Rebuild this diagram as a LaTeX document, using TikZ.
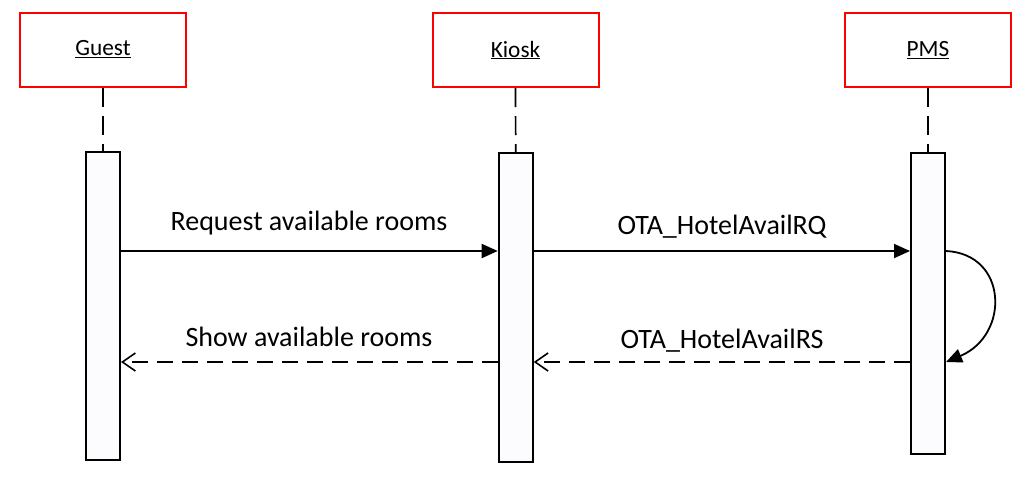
\documentclass[tikz,border=0pt]{standalone}
\usepackage{fontspec}
\setmainfont{Carlito}
\usetikzlibrary{arrows.meta,calc}
\begin{document}
\begin{tikzpicture}[x=1pt,y=-1pt,
  actor/.style={draw=red, line width=2pt, minimum width=166pt, minimum height=74pt, inner sep=0pt, font=\fontsize{23.3}{27}\selectfont},
  actbar/.style={draw=black, line width=2pt, fill=blue!1, minimum width=34pt, inner sep=0pt},
  lifeline/.style={line width=1.7pt, dash pattern=on 19pt off 9pt},
  msgline/.style={line width=1.8pt, -{Triangle[length=16pt,width=14pt]}},
  retline/.style={line width=1.8pt, dash pattern=on 16pt off 9pt, -{Straight Barb[length=13pt,width=18pt,line width=1.6pt]}},
  msg/.style={anchor=base, inner sep=0pt, font=\fontsize{28}{33}\selectfont}]
\useasboundingbox (0,0) rectangle (1035,488);
% participants
\node[actor] (guest) at (103,49.5) {\underline{Guest}};
\node[actor] (kiosk) at (515.5,50) {\underline{Kiosk}};
\node[actor] (pms) at (928,50) {\underline{PMS}};
% activation bars
\node[actbar, minimum height=308pt] (gact) at (103,305.8) {};
\node[actbar, minimum height=309pt] (kact) at (515.7,307.3) {};
\node[actbar, minimum height=301pt] (pact) at (928,303.5) {};
% lifelines
\draw[lifeline] (guest.south) -- (gact.north);
\draw[lifeline] (kiosk.south) -- (kact.north);
\draw[lifeline] (pms.south) -- (pact.north);
% message rows
\coordinate (r1) at (0,251);
\coordinate (r2) at (0,362);
\draw[msgline] (gact.east |- r1) -- (kact.west |- r1);
\draw[msgline] (kact.east |- r1) -- (pact.west |- r1);
\draw[retline] (pact.west |- r2) -- (kact.east |- r2);
\draw[retline] (kact.west |- r2) -- (gact.east |- r2);
% self call
\draw[line width=1.8pt, -{Triangle[length=16pt,width=14pt]}]
  (pact.east |- r1) .. controls (1008,254) and (1010,335) .. (pact.east |- r2);
% labels
\node[msg] (l1) at (309,230) {Request available rooms};
\node[msg] (l2) at (722,234) {OTA\_HotelAvailRQ};
\node[msg] (l3) at (309,346) {Show available rooms};
\node[msg] (l4) at (722,348) {OTA\_HotelAvailRS};
\end{tikzpicture}
\end{document}
